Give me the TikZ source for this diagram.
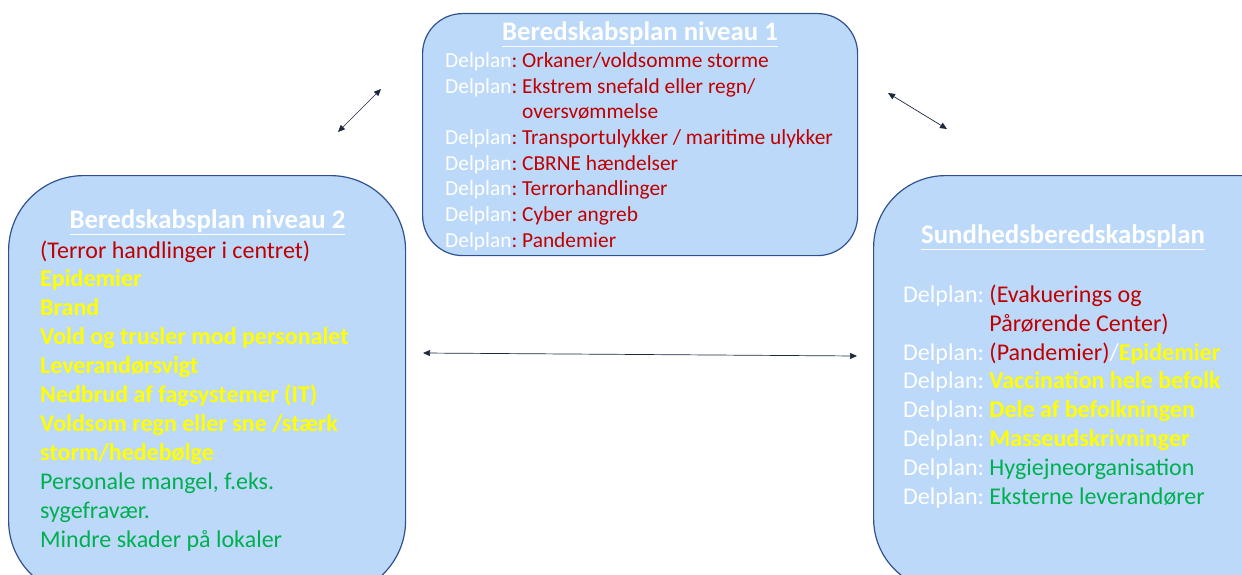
\documentclass[tikz,border=0pt]{standalone}
\usepackage{fontspec}
\setmainfont{Carlito}
\usetikzlibrary{arrows.meta, positioning}
\definecolor{PlanBlue}{RGB}{188,217,250}
\definecolor{PlanEdge}{RGB}{47,82,143}
\definecolor{PlanRed}{RGB}{192,0,0}
\definecolor{PlanYellow}{RGB}{255,255,0}
\definecolor{PlanGreen}{RGB}{0,176,80}
\definecolor{PlanArrow}{RGB}{28,40,62}
\newcommand{\wtxt}[1]{\textcolor{white}{#1}}
\newcommand{\redtxt}[1]{\textcolor{PlanRed}{#1}}
\newcommand{\yeltxt}[1]{\textcolor{PlanYellow}{\bfseries #1}}
\newcommand{\grntxt}[1]{\textcolor{PlanGreen}{#1}}

\begin{document}
\begin{tikzpicture}[x=1pt, y=-1pt,
    planbox/.style={draw=PlanEdge, line width=1.2pt, fill=PlanBlue, anchor=north west, inner sep=0pt},
    plantitle/.style={anchor=base, inner sep=0pt, text=white, font=\fontsize{26.8}{30}\selectfont\bfseries},
    plantext/.style={anchor=base west, inner sep=0pt},
    link/.style={{Triangle[width=6pt,length=7pt]}-{Triangle[width=6pt,length=7pt]}, draw=PlanArrow, line width=0.7pt}]
  \useasboundingbox (0,0) rectangle (1242,575);
  \clip (0,0) rectangle (1242,575);

  % boxes
  \node[planbox, rounded corners=40pt, minimum width=435pt, minimum height=242pt] (niv1) at (422,13) {};
  \node[planbox, rounded corners=75pt, minimum width=397pt, minimum height=420pt] (niv2) at (8,175) {};
  \node[planbox, rounded corners=72pt, minimum width=440pt, minimum height=415pt] (sund) at (873,175) {};

  % titles
  \node[plantitle] (niv1title) at (640,40.5) {\underline{Beredskabsplan niveau 1}};
  \node[plantitle] (niv2title) at (207.5,228.5) {\underline{Beredskabsplan niveau 2}};
  \node[plantitle] (sundtitle) at (1063,243.5) {\underline{Sundhedsberedskabsplan}};

  % niveau 1
  \node[plantext, font=\fontsize{21.4}{25.7}\selectfont] (niv1list) at (445,67.5) {%
    \begin{tabular}[t]{@{}l@{}l@{}}
      \wtxt{Delplan}\redtxt{:\ } & \redtxt{Orkaner/voldsomme storme}\\
      \wtxt{Delplan}\redtxt{:\ } & \redtxt{Ekstrem snefald eller regn/}\\
       & \redtxt{oversvømmelse}\\
      \wtxt{Delplan}\redtxt{:\ } & \redtxt{Transportulykker / maritime ulykker}\\
      \wtxt{Delplan}\redtxt{:\ } & \redtxt{CBRNE hændelser}\\
      \wtxt{Delplan}\redtxt{:\ } & \redtxt{Terrorhandlinger}\\
      \wtxt{Delplan}\redtxt{:\ } & \redtxt{Cyber angreb}\\
      \wtxt{Delplan}\redtxt{:\ } & \redtxt{Pandemier}
    \end{tabular}};

  % niveau 2
  \node[plantext, font=\fontsize{24}{28.9}\selectfont] (niv2list) at (40,258) {%
    \begin{tabular}[t]{@{}l@{}}
      \redtxt{(Terror handlinger i centret)}\\
      \yeltxt{Epidemier}\\
      \yeltxt{Brand}\\
      \yeltxt{Vold og trusler mod personalet}\\
      \yeltxt{Leverandørsvigt}\\
      \yeltxt{Nedbrud af fagsystemer (IT)}\\
      \yeltxt{Voldsom regn eller sne /stærk}\\
      \yeltxt{storm/hedebølge}\\
      \grntxt{Personale mangel, f.eks.}\\
      \grntxt{sygefravær.}\\
      \grntxt{Mindre skader på lokaler}
    \end{tabular}};

  % sundhed
  \node[plantext, font=\fontsize{24}{28.8}\selectfont] (sundlist) at (903,302.5) {%
    \begin{tabular}[t]{@{}l@{}l@{}}
      \wtxt{Delplan:\ } & \redtxt{(Evakuerings og}\\
       & \redtxt{Pårørende Center)}\\
      \wtxt{Delplan:\ } & \redtxt{(Pandemier)}\wtxt{/}\yeltxt{Epidemier}\\
      \wtxt{Delplan:\ } & \yeltxt{Vaccination hele befolk}\\
      \wtxt{Delplan:\ } & \yeltxt{Dele af befolkningen}\\
      \wtxt{Delplan:\ } & \yeltxt{Masseudskrivninger}\\
      \wtxt{Delplan:\ } & \grntxt{Hygiejneorganisation}\\
      \wtxt{Delplan:\ } & \grntxt{Eksterne leverandører}
    \end{tabular}};

  % connectors
  \coordinate (l1a) at (338,132);
  \coordinate (l1b) at (381,89);
  \coordinate (l2a) at (888,93);
  \coordinate (l2b) at (947,129);
  \coordinate (l3a) at (423,353);
  \coordinate (l3b) at (857,356);
  \draw[link] (l1a) -- (l1b);
  \draw[link] (l2a) -- (l2b);
  \draw[link] (l3a) -- (l3b);
\end{tikzpicture}
\end{document}
